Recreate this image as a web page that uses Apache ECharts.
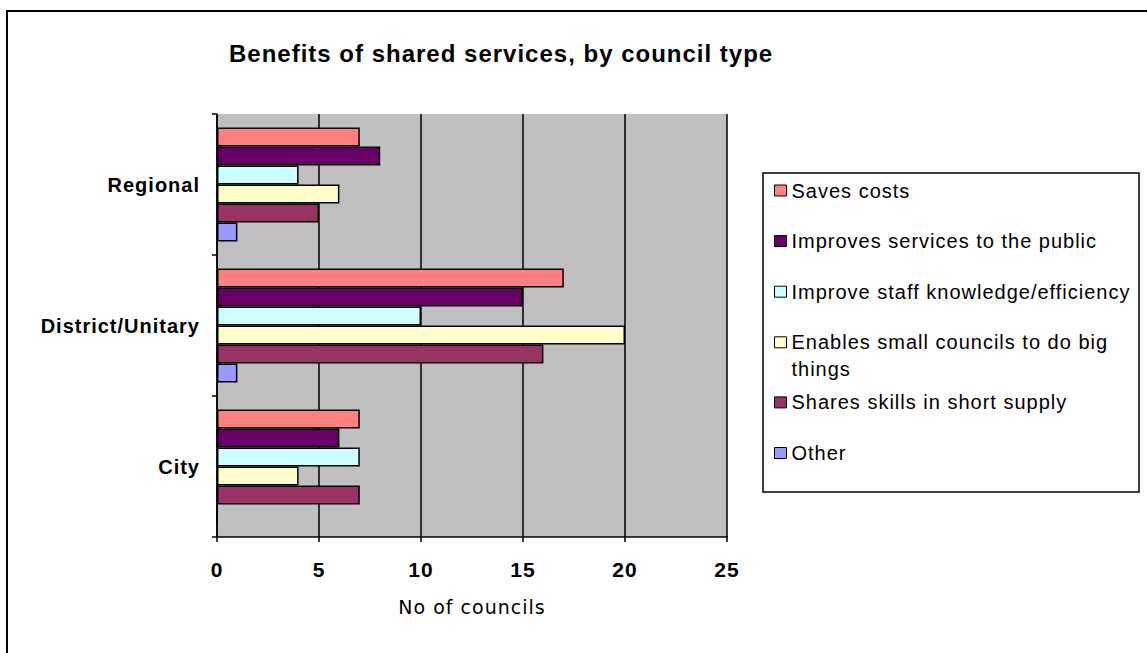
<!DOCTYPE html>
<html>
<head>
<meta charset="utf-8">
<title>Benefits of shared services, by council type</title>
<script src="https://cdn.jsdelivr.net/npm/echarts@6/dist/echarts.min.js"></script>
<style>
  html, body { margin: 0; padding: 0; background: #fff; }
  #chart { width: 1147px; height: 653px; }
  /* a little tracking on every label, like the original spreadsheet output */
  #chart text { letter-spacing: 1px; }
</style>
</head>
<body>
<div id="chart"></div>
<script>
// Council types, listed top to bottom
const councilTypes = ['Regional', 'District/Unitary', 'City'];

// Benefit names (legend order)
const benefitNames = [
  'Saves costs',
  'Improves services to the public',
  'Improve staff knowledge/efficiency',
  'Enables small councils to do big things',
  'Shares skills in short supply',
  'Other'
];

// Number of councils per benefit, in councilTypes order
const savesCosts        = [7, 17, 7];
const improvesServices  = [8, 15, 6];
const improveStaff      = [4, 10, 7];
const enablesSmall      = [6, 20, 4];
const sharesSkills      = [5, 16, 7];
const otherBenefit      = [1, 1, 0];

// x axis ticks
const xTicks = [0, 5, 10, 15, 20, 25];

const benefitValues = [savesCosts, improvesServices, improveStaff, enablesSmall, sharesSkills, otherBenefit];
const benefitColors = ['#FF8080', '#660066', '#CCFFFF', '#FFFFCC', '#993366', '#9999FF'];

const SANS = '"Liberation Sans", Arial, sans-serif';
const LEGEND_FONT_SIZE = 20;
const LEGEND_TEXT_MAX = 342;

// Wrap long legend entries at word boundaries to fit the legend box
const measureCtx = document.createElement('canvas').getContext('2d');
measureCtx.font = LEGEND_FONT_SIZE + 'px ' + SANS;
function textWidth(s) { return measureCtx.measureText(s).width + s.length * 1; }
function wrapWords(name, maxW) {
  const words = name.split(' ');
  const lines = [];
  let cur = '';
  words.forEach(function (w) {
    const trial = cur ? cur + ' ' + w : w;
    if (cur && textWidth(trial) > maxW) { lines.push(cur); cur = w; }
    else { cur = trial; }
  });
  if (cur) lines.push(cur);
  return lines;
}

const chart = echarts.init(document.getElementById('chart'), null, { renderer: 'svg' });

const series = benefitNames.map(function (name, i) {
  return {
    name: name,
    type: 'bar',
    data: benefitValues[i],
    barGap: '0%',
    barCategoryGap: '19%',
    itemStyle: { color: benefitColors[i], borderColor: '#000', borderWidth: 1.5 },
    emphasis: { disabled: true }
  };
});

chart.setOption({
  backgroundColor: '#fff',
  animation: false,
  title: {
    text: 'Benefits of shared services, by council type',
    left: 229,
    top: 41,
    padding: 0,
    textStyle: { fontFamily: SANS, fontSize: 24, fontWeight: 'bold', color: '#000' }
  },
  grid: {
    left: 217, right: 420, top: 114, bottom: 116,
    show: true, backgroundColor: '#C0C0C0', borderWidth: 0,
    containLabel: false
  },
  xAxis: {
    type: 'value',
    min: xTicks[0],
    max: xTicks[xTicks.length - 1],
    interval: xTicks[1] - xTicks[0],
    name: 'No of councils',
    nameLocation: 'middle',
    nameGap: 60,
    nameTextStyle: { fontFamily: '"DejaVu Sans", Verdana, sans-serif', fontSize: 19, color: '#000' },
    axisLine: { show: true, lineStyle: { color: '#000', width: 1.5 } },
    axisTick: { show: true, inside: false, length: 5, lineStyle: { color: '#000', width: 1.5 } },
    axisLabel: { margin: 22, fontFamily: SANS, fontSize: 21, fontWeight: 'bold', color: '#000' },
    splitLine: { show: true, lineStyle: { color: '#000', width: 1.5 } }
  },
  yAxis: {
    type: 'category',
    data: councilTypes,
    inverse: true,
    axisLine: { show: true, lineStyle: { color: '#000', width: 1.5 } },
    axisTick: { show: true, inside: false, length: 5, lineStyle: { color: '#000', width: 1.5 } },
    axisLabel: { margin: 17, fontFamily: SANS, fontSize: 20, fontWeight: 'bold', color: '#000' },
    splitLine: { show: false }
  },
  legend: {
    orient: 'vertical',
    left: 774,
    top: 163.5,
    padding: 0,
    itemGap: -3.4,
    itemWidth: 12,
    itemHeight: 11,
    icon: 'rect',
    selectedMode: false,
    data: benefitNames,
    itemStyle: { borderColor: '#000', borderWidth: 1 },
    textStyle: {
      fontFamily: SANS, fontSize: LEGEND_FONT_SIZE, color: '#000', lineHeight: 54,
      rich: {
        first: { fontFamily: SANS, fontSize: LEGEND_FONT_SIZE, color: '#000', lineHeight: 53 },
        rest: { fontFamily: SANS, fontSize: LEGEND_FONT_SIZE, color: '#000', lineHeight: 1 }
      }
    },
    formatter: function (name) {
      const lines = wrapWords(name, LEGEND_TEXT_MAX);
      if (lines.length === 1) return name;
      return '{first|' + lines[0] + '}\n{rest|' + lines.slice(1).join(' ') + '}';
    }
  },
  graphic: [
    {
      type: 'rect', silent: true, z: -1,
      shape: { x: 7, y: 11, width: 1200, height: 700 },
      style: { fill: 'none', stroke: '#000', lineWidth: 2 }
    },
    {
      type: 'rect', silent: true, z: -1,
      shape: { x: 763, y: 173, width: 376, height: 319 },
      style: { fill: 'none', stroke: '#000', lineWidth: 1.5 }
    }
  ],
  series: series
});
</script>
</body>
</html>
